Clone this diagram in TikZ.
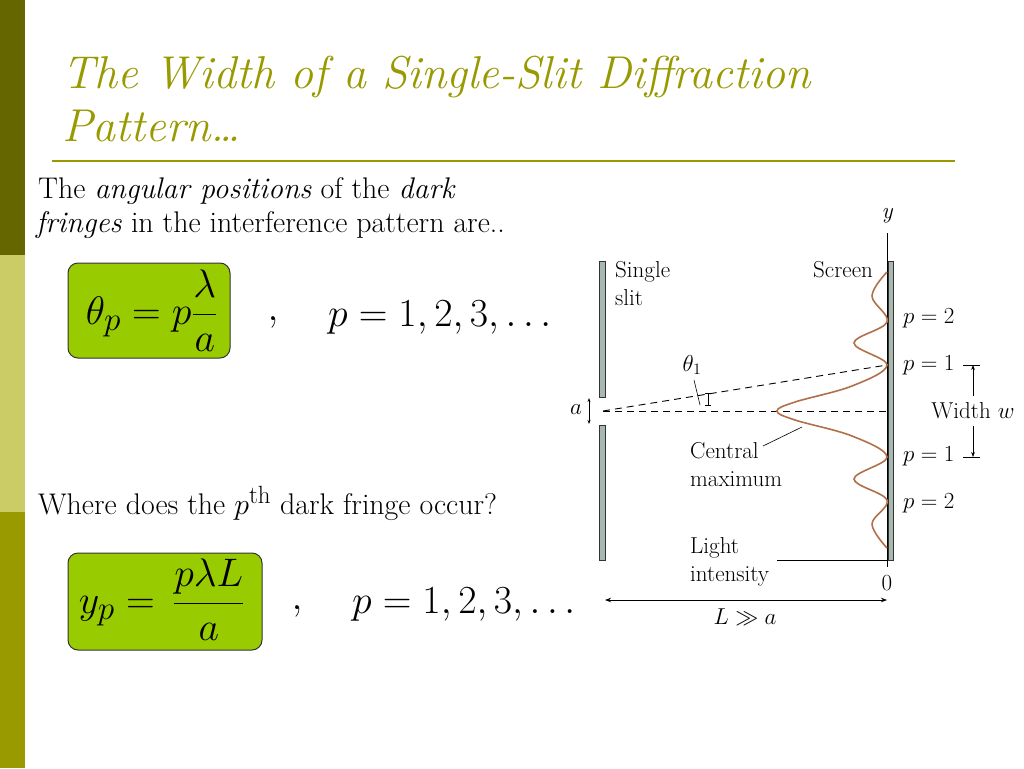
\documentclass[tikz,border=0pt]{standalone}
\usepackage{amsmath,amssymb}
\usepackage{graphicx}
\usetikzlibrary{arrows.meta}
\definecolor{olA}{HTML}{666600}
\definecolor{olB}{HTML}{CCCC66}
\definecolor{olC}{HTML}{999900}
\definecolor{titc}{HTML}{999900}
\definecolor{boxg}{HTML}{99CC00}
\definecolor{plate}{HTML}{A8B8B0}
\definecolor{curve}{HTML}{B0704A}
\newcommand{\TX}[1]{\scalebox{1.2}{\Huge #1}}
\newcommand{\TT}[1]{\scalebox{1.85}{\Huge\itshape #1}}
\newcommand{\MX}[1]{\scalebox{1.6}{\Huge $#1$}}
\newcommand{\LB}[1]{\scalebox{1.11}{\huge #1}}
\newcommand{\LT}[1]{\scalebox{1.11}{\huge\begin{tabular}{@{}l@{}}#1\end{tabular}}}
\begin{document}
\begin{tikzpicture}[x=1pt,y=-1pt,
  txt/.style={inner sep=0pt,anchor=base west},
  lab/.style={inner sep=0pt},
  eqbox/.style={draw=black!80,line width=1pt,fill=boxg,rounded corners=10pt},
  plt/.style={draw=black!80,fill=plate,line width=0.8pt},
  dsh/.style={dashed,dash pattern=on 7pt off 5pt,line width=0.9pt}]
\useasboundingbox (0,0) rectangle (1024,768);
\fill[white] (0,0) rectangle (1024,768);
\fill[olA] (0,0) rectangle (25,255);
\fill[olB] (0,255) rectangle (25,512);
\fill[olC] (0,512) rectangle (25,768);
% title
\node[txt,text=titc] (t1) at (62,88) {\TT{The Width of a Single-Slit Diffraction}};
\node[txt,text=titc] (t2) at (62,141) {\TT{Pattern\ldots}};
\draw[titc,line width=1.5pt] (52,161) -- (955,161);
% text
\node[txt] (l1) at (38,198) {\TX{The \textit{angular positions} of the \textit{dark}}};
\node[txt] (l2) at (36,232) {\TX{\textit{fringes} in the interference pattern are..}};
\node[txt] (l3) at (38,514) {\TX{Where does the $p^{\text{th}}$ dark fringe occur?}};
% boxes
\draw[eqbox] (68,263) rectangle (230,358);
\node[lab] (e1) at (152,311) {\MX{\theta_p = p\dfrac{\lambda}{a}}};
\node[lab] (c1) at (273,322) {\MX{,}};
\node[lab,anchor=west] (r1) at (328,318) {\MX{p=1,2,3,\ldots}};
\draw[eqbox] (68,553) rectangle (262,650);
\node[lab] (e2) at (162,600) {\MX{y_p = \,\dfrac{p\lambda L}{a}}};
\node[lab] (c2) at (297,611) {\MX{,}};
\node[lab,anchor=west] (r2) at (352,605) {\MX{p=1,2,3,\ldots}};
% diagram
\draw[line width=0.9pt] (887,233) -- (887,567);
\node[lab] (ylab) at (887,216) {\LB{\itshape y}};
\draw[plt] (599,261) rectangle (605,397);
\draw[plt] (599,425) rectangle (605,560);
\draw[plt] (888,261) rectangle (893,560);
\coordinate (src) at (603,411);
\coordinate (s1) at (887,365);
\coordinate (s0) at (887,411);
\draw[dsh] (src) -- (s1);
\draw[dsh] (src) -- (s0);
\draw[curve,line width=1.6pt] plot[smooth,tension=0.6] coordinates {(887,272) (872,296) (887,322) (854,343) (887,365) (852,386) (795,402) (777,411) (795,420) (852,436) (887,457) (854,479) (887,500) (872,524) (887,548)};
\draw[line width=0.9pt] (777,560) -- (887,560);
\node[lab] (zero) at (887,583) {\LB{0}};
\coordinate (La) at (605,600);
\coordinate (Lb) at (887,600);
\draw[{Stealth[length=6pt]}-{Stealth[length=6pt]},line width=0.7pt] (La) -- (Lb);
\node[lab] (Llab) at (745,617) {\LB{$L \gg a$}};
\node[lab] (alab) at (576,410) {\LB{$a$}};
\coordinate (aa) at (589,398);
\coordinate (ab) at (589,424);
\draw[{Stealth[length=4pt]}-{Stealth[length=4pt]},line width=0.7pt] (aa) -- (ab);
\node[lab] (th) at (692,365) {\LB{$\theta_1$}};
\draw[line width=0.6pt] (694,380) -- (700,405);
\draw[line width=0.6pt] (708,393) -- (708,405) (705,393)--(711,393) (705,405)--(711,405);
\node[lab,anchor=north west] (cm) at (690,439) {\LT{Central\\maximum}};
\draw[line width=0.6pt] (763,446) -- (802,427);
\node[lab,anchor=north west] (li) at (690,534) {\LT{Light\\intensity}};
\node[lab,anchor=north west] (ss) at (615,258) {\LT{Single\\slit}};
\node[lab] (sc) at (843,270) {\LB{Screen}};
\node[lab,anchor=west] (p2a) at (903,318) {\LB{$p = 2$}};
\node[lab,anchor=west] (p1a) at (903,365) {\LB{$p = 1$}};
\node[lab,anchor=west] (p1b) at (903,456) {\LB{$p = 1$}};
\node[lab,anchor=west] (p2b) at (903,503) {\LB{$p = 2$}};
\node[lab] (wl) at (973,411) {\LB{Width $w$}};
\draw[line width=0.6pt] (963,365) -- (980,365) (963,457) -- (980,457);
\coordinate (w1) at (973,365);
\coordinate (w2) at (973,457);
\draw[-{Stealth[length=5pt]},line width=0.6pt] (973,396) -- (w1);
\draw[-{Stealth[length=5pt]},line width=0.6pt] (973,426) -- (w2);
\end{tikzpicture}
\end{document}
